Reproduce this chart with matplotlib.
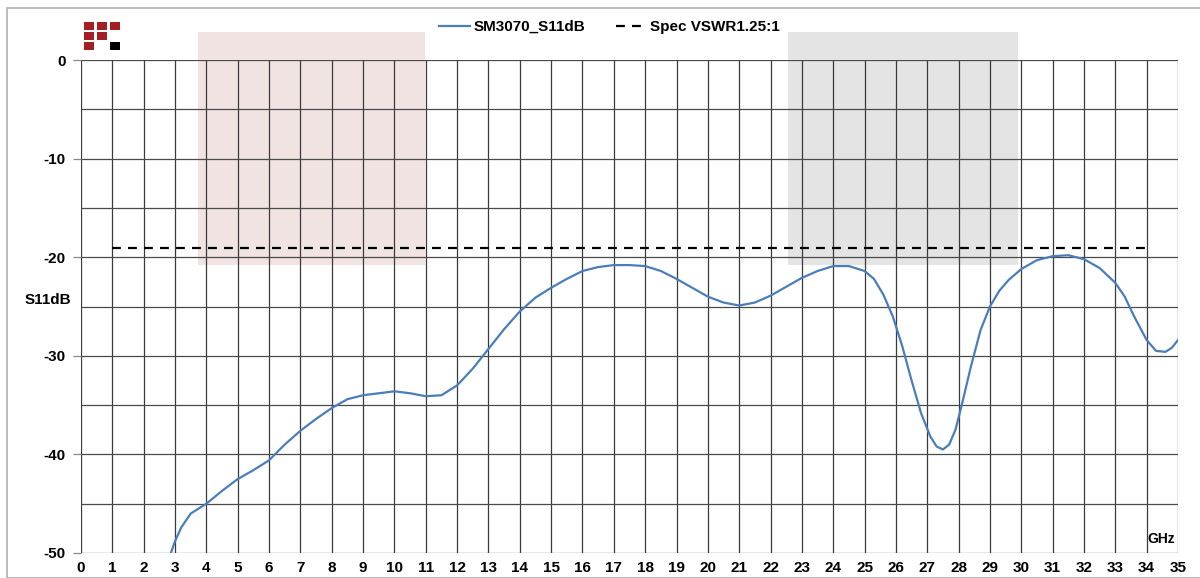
import matplotlib.pyplot as plt
import matplotlib.patches as patches
import numpy as np

plt.rcParams['font.family'] = ['Liberation Sans', 'DejaVu Sans']
plt.rcParams['font.weight'] = 'bold'
plt.rcParams['axes.unicode_minus'] = False

# S11 curve (GHz, dB)
freq = [2.87, 3.0, 3.2, 3.5, 4.0, 4.5, 5.0, 5.5, 6.0, 6.5, 7.0, 7.5, 8.0, 8.5, 9.0,
        9.5, 10.0, 10.5, 11.0, 11.5, 12.0, 12.5, 13.0, 13.5, 14.0, 14.5, 15.0, 15.5,
        16.0, 16.5, 17.0, 17.5, 18.0, 18.5, 19.0, 19.5, 20.0, 20.5, 21.0, 21.5, 22.0,
        22.5, 23.0, 23.5, 24.0, 24.5, 25.0, 25.3, 25.6, 25.9, 26.2, 26.5, 26.8, 27.1,
        27.3, 27.5, 27.7, 27.9, 28.1, 28.4, 28.7, 29.0, 29.3, 29.6, 30.0, 30.5, 31.0,
        31.5, 32.0, 32.5, 33.0, 33.3, 33.6, 34.0, 34.3, 34.6, 34.8, 35.0]
s11 = [-50.0, -48.8, -47.4, -46.0, -45.0, -43.7, -42.5, -41.6, -40.6, -39.0, -37.6,
       -36.4, -35.3, -34.4, -34.0, -33.8, -33.6, -33.8, -34.1, -34.0, -33.0, -31.3,
       -29.3, -27.3, -25.5, -24.1, -23.1, -22.2, -21.4, -21.0, -20.8, -20.8, -20.9,
       -21.4, -22.2, -23.1, -24.0, -24.6, -24.9, -24.6, -23.9, -23.0, -22.1, -21.4,
       -20.9, -20.9, -21.4, -22.2, -23.8, -26.0, -29.0, -32.5, -35.8, -38.2, -39.2,
       -39.5, -39.0, -37.5, -35.0, -31.0, -27.4, -25.0, -23.4, -22.3, -21.2, -20.3,
       -19.9, -19.8, -20.2, -21.1, -22.6, -24.0, -26.0, -28.4, -29.5, -29.6, -29.2,
       -28.4]

spec_x = [1, 34]
spec_db = [-19.08, -19.08]

# shaded bands (GHz range, dB range)
bands = [(3.73, 10.98, '#f2e3e3'), (22.56, 29.9, '#e4e4e4')]
band_top, band_bottom = 2.85, -20.8

fig = plt.figure(figsize=(12, 5.78), dpi=100)
ax = fig.add_axes([81 / 1200, 1 - 553 / 578, 1097 / 1200, 493 / 578])

for x0, x1, c in bands:
    ax.add_patch(patches.Rectangle((x0, band_bottom), x1 - x0, band_top - band_bottom,
                                   facecolor=c, edgecolor='none', zorder=0, clip_on=False))

ax.plot(freq, s11, color='#4a7ebb', linewidth=1.6, label='SM3070_S11dB', zorder=3)
ax.plot(spec_x, spec_db, color='black', linewidth=1.6, linestyle=(0, (4, 3.2)),
        label='Spec VSWR1.25:1', zorder=3)

ax.set_xlim(0, 35)
ax.set_ylim(-50, 0)
ax.set_xticks(np.arange(0, 36, 1))
ax.set_yticks(np.arange(-50, 1, 10))
ax.set_yticks(np.arange(-50, 1, 5), minor=True)
ax.grid(True, which='major', axis='x', color='#3a3a3a', linewidth=0.9)
ax.grid(True, which='both', axis='y', color='#4a4a4a', linewidth=0.9)
ax.set_axisbelow(True)
for s in ax.spines.values():
    s.set_visible(False)
ax.tick_params(axis='x', length=0, pad=6, labelsize=11)
ax.tick_params(axis='y', which='major', length=6, width=0.9, color='#888888', pad=5, labelsize=11)
ax.tick_params(axis='y', which='minor', length=0)
ax.set_ylabel('S11dB', rotation=0, fontsize=11, fontweight='bold')
ax.yaxis.set_label_coords(-0.03, 0.5)
ax.text(34.9, -48.6, 'GHz', ha='right', va='center', fontsize=10, fontweight='bold')

leg = ax.legend(loc='lower center', bbox_to_anchor=(0.482, 1.04), ncol=2, frameon=False,
                fontsize=11, handlelength=2.0, handletextpad=0.25, columnspacing=2.0,
                borderaxespad=0)
for t in leg.get_texts():
    t.set_fontweight('bold')

# figure border
fig.patches.append(patches.Rectangle((7 / 1200, 0), 1.2, 1 - 8 / 578, transform=fig.transFigure,
                                     facecolor='none', edgecolor='#b0b0b0', linewidth=1.2))

# small logo top left
logo_cells = [(0, 0, '#a31f24'), (1, 0, '#a31f24'), (2, 0, '#a31f24'),
              (0, 1, '#a31f24'), (1, 1, '#a31f24'),
              (0, 2, '#a31f24'), (2, 2, 'black')]
for cx, cy, c in logo_cells:
    px, py = 84 + cx * 13, 22 + cy * 10
    fig.patches.append(patches.Rectangle((px / 1200, 1 - (py + 8) / 578), 10 / 1200, 8 / 578,
                                         transform=fig.transFigure, facecolor=c, edgecolor='none'))

fig.savefig('out.png', dpi=100)
